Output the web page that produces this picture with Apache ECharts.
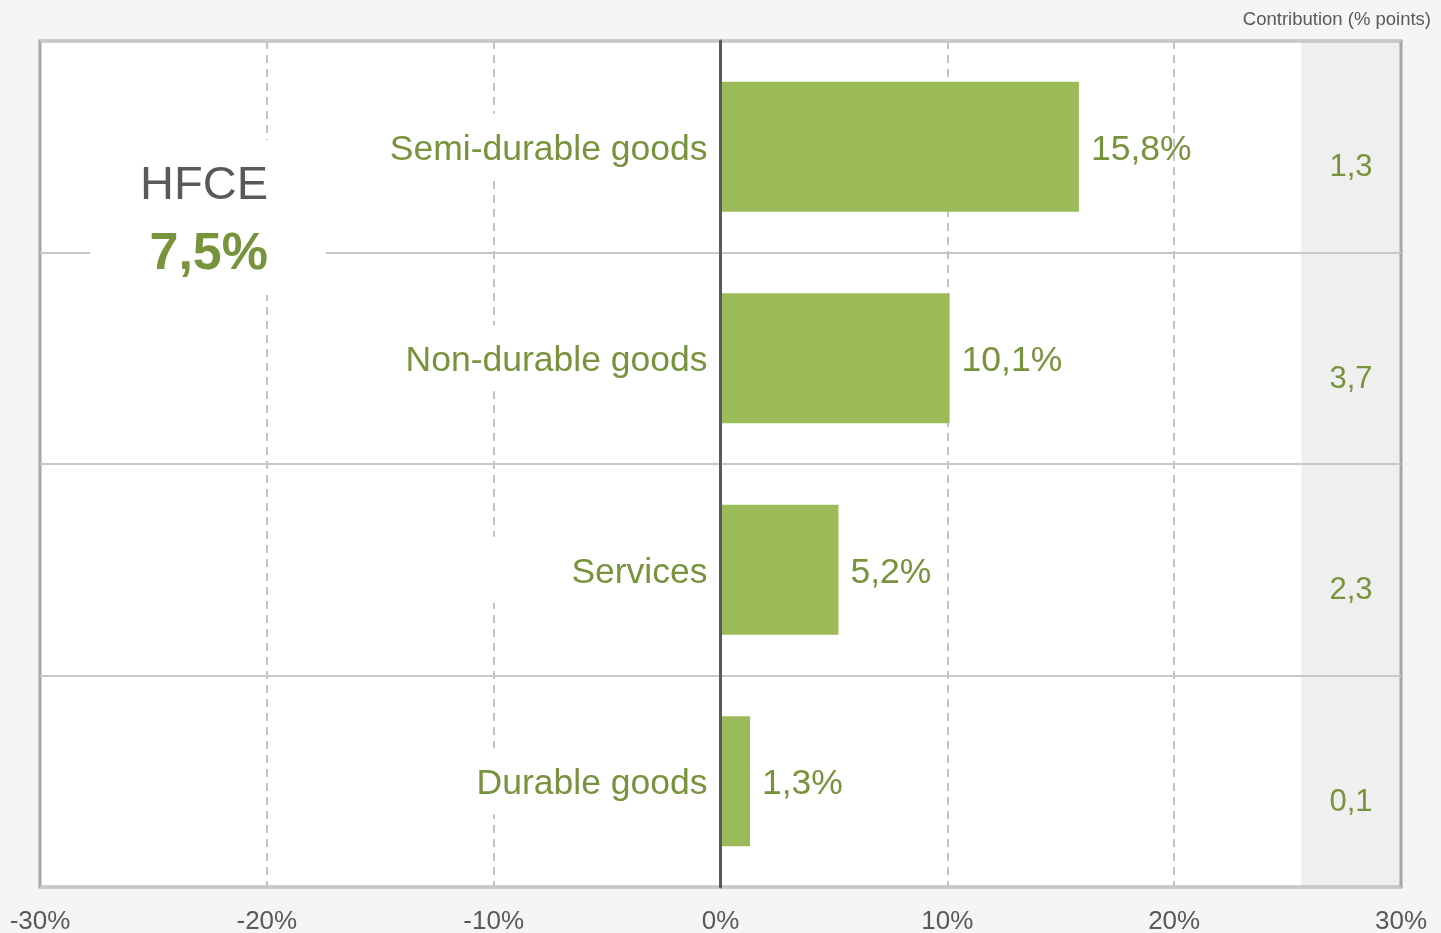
<!DOCTYPE html>
<html>
<head>
<meta charset="utf-8">
<script src="https://cdn.jsdelivr.net/npm/echarts@6/dist/echarts.min.js"></script>
<style>
html,body{margin:0;padding:0;background:#f5f5f5;}
#chart{width:1441px;height:933px;}
</style>
</head>
<body>
<div id="chart"></div>
<script>
const categories = ['Semi-durable goods', 'Non-durable goods', 'Services', 'Durable goods'];
const growthValues = [15.8, 10.1, 5.2, 1.3];
const contributionValues = [1.3, 3.7, 2.3, 0.1];
const xTicks = [-30, -20, -10, 0, 10, 20, 30];
const totalName = 'HFCE';
const totalValue = 7.5;
const contributionTitle = 'Contribution (% points)';

const FONT = '"Liberation Sans", Arial, Helvetica, sans-serif';
const GREEN_TEXT = '#77933c';
const BAR = '#9bbb59';
const GREY_TEXT = '#595959';
const fmt = v => v.toFixed(1).replace('.', ',');

const chart = echarts.init(document.getElementById('chart'), null, {renderer: 'canvas'});

const option = {
  backgroundColor: '#f5f5f5',
  animation: false,
  title: {
    text: contributionTitle,
    right: 5, top: 5,
    textStyle: {fontFamily: FONT, fontSize: 18.5, fontWeight: 'normal', color: GREY_TEXT}
  },
  grid: {
    left: 40, right: 40, top: 41, bottom: 46,
    containLabel: false, outerBoundsMode: 'none',
    show: true, borderColor: '#a6a6a6', borderWidth: 3, backgroundColor: 'transparent'
  },
  xAxis: {
    type: 'value',
    min: xTicks[0], max: xTicks[xTicks.length - 1], interval: 10,
    axisLine: {show: false},
    axisTick: {show: false},
    axisLabel: {
      formatter: v => v + '%',
      fontFamily: FONT, fontSize: 26, color: GREY_TEXT, margin: 22
    },
    splitLine: {show: true, showMinLine: false, showMaxLine: false,
                lineStyle: {color: '#c4c4c4', width: 2, type: [8, 6]}}
  },
  yAxis: [{
    type: 'category',
    data: categories,
    inverse: true,
    z: 5,
    axisLine: {show: true, onZero: true, lineStyle: {color: '#595959', width: 3}},
    axisTick: {show: false},
    axisLabel: {
      margin: 13,
      formatter: v => '{s|}\n{t|' + v + '}',
      backgroundColor: '#ffffff', padding: [10, 0, 10, 6],
      width: 318, align: 'right',
      rich: {
        s: {lineHeight: 6, fontSize: 1},
        t: {fontFamily: FONT, fontSize: 35.5, color: GREEN_TEXT, lineHeight: 40, align: 'right'}
      }
    },
    splitLine: {show: true, lineStyle: {color: '#c8c8c8', width: 2}}
  }, {
    type: 'category',
    data: contributionValues.map(fmt),
    inverse: true,
    position: 'right',
    z: 5,
    axisLine: {show: false, onZero: false},
    axisTick: {show: false},
    splitLine: {show: false},
    axisLabel: {
      inside: true, margin: 50, align: 'center',
      formatter: v => '{s|}\n{t|' + v + '}',
      rich: {
        s: {lineHeight: 42, fontSize: 1},
        t: {fontFamily: FONT, fontSize: 31, color: GREEN_TEXT, lineHeight: 36, align: 'center'}
      }
    }
  }],
  series: [{
    type: 'bar',
    data: growthValues,
    barWidth: 130,
    itemStyle: {color: BAR},
    label: {
      show: true, position: 'right', distance: 12, offset: [0, 3],
      formatter: p => fmt(p.value) + '%',
      fontFamily: FONT, fontSize: 35.5, color: GREEN_TEXT
    }
  }]
};
chart.setOption(option);

// positions derived from the axes
const xL = chart.convertToPixel({xAxisIndex: 0}, -30);
const xR = chart.convertToPixel({xAxisIndex: 0}, 30);
const x0 = chart.convertToPixel({xAxisIndex: 0}, 0);
const xCol = chart.convertToPixel({xAxisIndex: 0}, 25.6);
const grid = chart.getModel().getComponent('grid').coordinateSystem.getRect();

chart.setOption({
  yAxis: [{axisLabel: {margin: -(x0 - grid.x - 13)}}, {}],
  graphic: [
    {type: 'rect', z: -10, silent: true,
     shape: {x: xL, y: grid.y, width: xR - xL, height: grid.height},
     style: {fill: '#ffffff'}},
    {type: 'rect', z: -9, silent: true,
     shape: {x: xCol, y: grid.y, width: xR - xCol, height: grid.height},
     style: {fill: '#efefef'}},
    {type: 'rect', z: 10, silent: true,
     shape: {x: 90, y: 140, width: 236, height: 155},
     style: {fill: '#ffffff'}},
    {type: 'text', z: 11, silent: true, x: 268, y: 186,
     style: {text: totalName, font: '47px ' + FONT, fill: GREY_TEXT, align: 'right', verticalAlign: 'middle'}},
    {type: 'text', z: 11, silent: true, x: 268, y: 255,
     style: {text: fmt(totalValue) + '%', font: 'bold 52px ' + FONT, fill: GREEN_TEXT, align: 'right', verticalAlign: 'middle'}}
  ]
});
</script>
</body>
</html>
